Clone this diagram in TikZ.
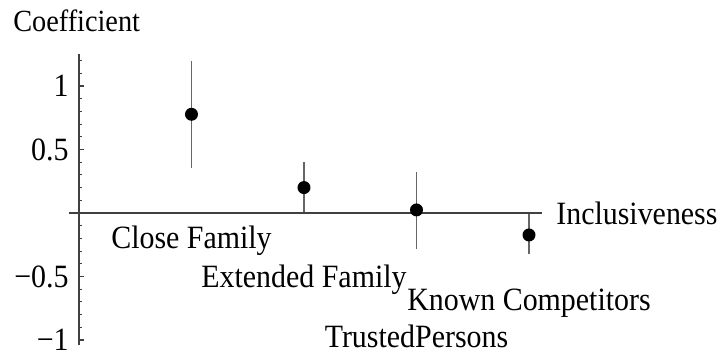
\documentclass[tikz,border=0pt]{standalone}
\usepackage{fontspec}
\setmainfont{Liberation Serif}[FakeStretch=0.92]
\usetikzlibrary{positioning}
\tikzset{
  axisline/.style={draw=black!75, line width=0.6pt},
  errbar/.style={draw=black!60, line width=0.7pt},
  estpoint/.style={circle, fill=black, inner sep=0pt, minimum size=0.26cm},
  plotlabel/.style={font=\fontsize{18.5}{22}\selectfont, inner sep=0pt},
}
\begin{document}
\begin{tikzpicture}[x=2.25cm,y=2.54cm]
  \useasboundingbox (-0.702,-1.110) rectangle (5.671,1.677);
  %% axes
  \draw[axisline] (0,-1.039) -- (0,1.252);
  \draw[axisline] (-0.089,0) -- (4.116,0);
  % ticks
  \foreach \t in {-10,...,12}
    \draw[axisline] (0,\t/10) -- ++(0.06cm,0);
  \foreach \t in {-1,-0.5,0.5,1}
    \draw[axisline] (0,\t) -- ++(0.1cm,0);
  \node[plotlabel, anchor=east] (ytick1) at (-0.089,1) {1};
  \node[plotlabel, anchor=east] (ytick2) at (-0.089,0.5) {0.5};
  \node[plotlabel, anchor=east] (ytick3) at (-0.089,-0.5) {−0.5};
  \node[plotlabel, anchor=east] (ytick4) at (-0.089,-1) {−1};

  \node[plotlabel, anchor=base west, font=\fontsize{17.5}{21}\selectfont] (ylabel) at (-0.587,1.425) {Coefficient};
  \node[plotlabel, anchor=west] (xlabel) at (4.24,0) {Inclusiveness};

  %% estimates
  \foreach \i/\est/\lo/\hi in {1/0.777/0.357/1.197, 2/0.200/0.010/0.400,
                               3/0.024/-0.280/0.325, 4/-0.173/-0.320/-0.005} {
    \coordinate (lo\i) at (\i,\lo);
    \coordinate (hi\i) at (\i,\hi);
    \draw[errbar] (lo\i) -- (hi\i);
    \node[estpoint] (est\i) at (\i,\est) {};
  }

  % categories
  \node[plotlabel, anchor=base] (cat1) at (1,-0.276) {Close Family};
  \node[plotlabel, anchor=base] (cat2) at (2,-0.583) {Extended Family};
  \node[plotlabel, anchor=base] (cat3) at (3,-1.063) {TrustedPersons};
  \node[plotlabel, anchor=base] (cat4) at (4,-0.764) {Known Competitors};
\end{tikzpicture}
\end{document}
